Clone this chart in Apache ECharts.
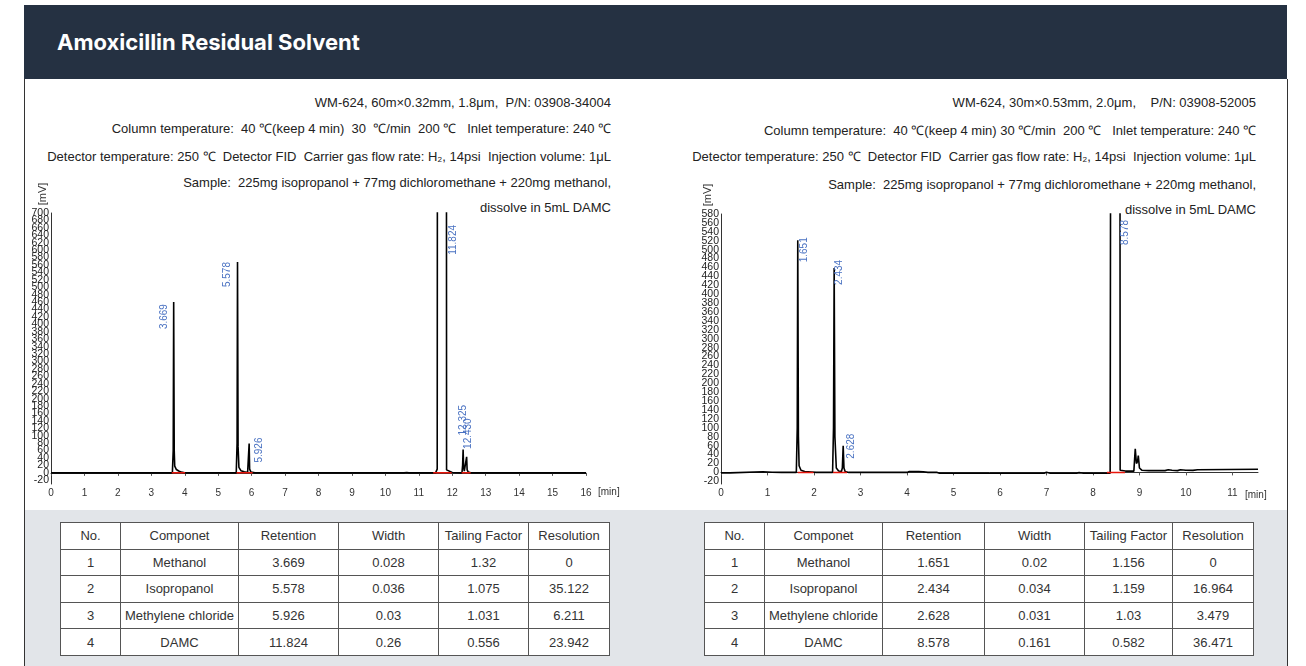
<!DOCTYPE html>
<html><head><meta charset="utf-8">
<script src="https://cdn.jsdelivr.net/npm/echarts@6/dist/echarts.min.js"></script>
<style>
body{margin:0;width:1306px;height:666px;position:relative;overflow:hidden;background:#fff;font-family:"Liberation Sans",Arial,sans-serif;}
#hdr{position:absolute;left:24px;top:5px;width:1263px;height:74px;background:#253142;}
#hdr span{position:absolute;left:33px;top:24px;line-height:26px;color:#fff;font-family:Inter,sans-serif;font-weight:700;font-size:22px;letter-spacing:0px;}
#panel{position:absolute;left:24px;top:79px;width:1262px;height:600px;border-left:1px solid #333;border-right:1px solid #333;}
#grey{position:absolute;left:25px;top:510px;width:1262px;height:156px;background:#e2e5e9;}
.info{position:absolute;white-space:pre;font-size:13px;line-height:16px;color:#222;text-align:right;}
table{position:absolute;top:522px;border-collapse:collapse;background:#fff;font-size:13px;color:#333;table-layout:fixed;}
td{border:1px solid #555;text-align:center;padding:0;white-space:nowrap;}
tr{height:26.6px;}
#chart{position:absolute;left:0;top:0;width:1306px;height:666px;}
</style></head>
<body>
<div id="hdr"><span>Amoxicillin Residual Solvent</span></div>
<div id="panel"></div>
<div id="grey"></div>
<div id="infoL"></div>
<div id="infoR"></div>
<table id="tblL"></table>
<table id="tblR"></table>
<div id="chart"></div>
<script>
// ---------------- data ----------------
const infoLeft = [
  "WM-624, 60m×0.32mm, 1.8μm,  P/N: 03908-34004",
  "Column temperature:  40 ℃(keep 4 min)  30  ℃/min  200 ℃   Inlet temperature: 240 ℃",
  "Detector temperature: 250 ℃  Detector FID  Carrier gas flow rate: H₂, 14psi  Injection volume: 1μL",
  "Sample:  225mg isopropanol + 77mg dichloromethane + 220mg methanol,",
  "dissolve in 5mL DAMC"
];
const infoRight = [
  "WM-624, 30m×0.53mm, 2.0μm,    P/N: 03908-52005",
  "Column temperature:  40 ℃(keep 4 min) 30 ℃/min  200 ℃   Inlet temperature: 240 ℃",
  "Detector temperature: 250 ℃  Detector FID  Carrier gas flow rate: H₂, 14psi  Injection volume: 1μL",
  "Sample:  225mg isopropanol + 77mg dichloromethane + 220mg methanol,",
  "dissolve in 5mL DAMC"
];

const tableHeader = ["No.", "Componet", "Retention", "Width", "Tailing Factor", "Resolution"];
const components = ["Methanol", "Isopropanol", "Methylene chloride", "DAMC"];
const retentionLeft = ["3.669", "5.578", "5.926", "11.824"];
const widthLeft = ["0.028", "0.036", "0.03", "0.26"];
const tailingLeft = ["1.32", "1.075", "1.031", "0.556"];
const resolutionLeft = ["0", "35.122", "6.211", "23.942"];
const retentionRight = ["1.651", "2.434", "2.628", "8.578"];
const widthRight = ["0.02", "0.034", "0.031", "0.161"];
const tailingRight = ["1.156", "1.159", "1.03", "0.582"];
const resolutionRight = ["0", "16.964", "3.479", "36.471"];

// chromatogram traces [time(min), signal(mV)]
const traceLeft = [
  [0,0],[1.5,0.5],[3.0,0],[3.63,0],[3.655,60],[3.669,460],[3.685,60],[3.70,18],[3.75,9],[3.82,5],[3.90,2],[4.0,0],
  [5.0,0],[5.54,0],[5.565,80],[5.578,568],[5.595,70],[5.62,15],[5.68,6],[5.78,3],[5.88,1],[5.91,0],[5.926,79],[5.94,10],[5.98,2],[6.1,0],
  [9.72,0],[9.74,2],[9.76,0],[10.56,0],[10.60,3],[10.64,1],[10.70,0],[11.50,0],[11.55,10],[11.56,1500],[11.824,1500],[11.83,8],[11.88,3],[12.0,1],
  [12.29,0],[12.31,20],[12.325,63],[12.34,15],[12.36,5],[12.41,8],[12.43,43],[12.445,8],[12.48,2],[12.55,0],[16,0]
];
const traceRight = [
  [0,-1],[0.19,-1],[0.2,1.5],[0.9,1.5],[1.0,1],[1.1,0.5],[1.3,0],[1.45,0.5],[1.62,0],[1.64,100],[1.651,521],[1.665,80],[1.68,15],[1.72,5],[1.8,2],[1.95,1],[2.05,0],
  [2.40,0],[2.42,100],[2.434,459],[2.45,80],[2.48,10],[2.53,3],[2.59,2],[2.61,10],[2.628,60],[2.645,10],[2.67,2],[2.75,0],
  [4.0,0],[4.05,2],[4.25,2],[4.35,1.5],[4.45,0],[4.65,0],[4.7,-2],[6.95,-2],[7.0,0.5],[7.08,-2],[7.65,-2],[7.7,-0.5],[7.8,-2],
  [8.37,-2],[8.39,1500],[8.578,1500],[8.585,5],[8.7,3],[8.88,3],[8.91,53],[8.935,20],[8.96,25],[8.975,38],[9.0,10],[9.05,5],[9.2,4],
  [9.55,4],[9.62,6],[9.7,5],[9.82,4],[9.88,6],[10.0,5],[10.15,4.5],[10.25,6],[11.55,7]
];
// integration baselines [start, end] (min)
const baselinesLeft = [[3.61,4.01],[5.55,6.03],[11.43,11.98],[12.28,12.55]];
const baselinesRight = [[1.65,1.99],[2.41,2.71],[8.30,8.69]];

// peak annotations
const peakRtLeft = [3.669, 5.578, 5.926, 11.824, 12.325, 12.430];
const peakTopLeft = [460, 568, 79, 700, 63, 43];
const peakLabelLeft = ["3.669", "5.578", "5.926", "11.824", "12.325", "12.430"];
const peakRtRight = [1.651, 2.434, 2.628, 8.578];
const peakTopRight = [521, 459, 60, 580];
const peakLabelRight = ["1.651", "2.434", "2.628", "8.578"];

// axis ticks (y labels split in two interleaved sets so none is dropped)
const xTicksLeft = [0,1,2,3,4,5,6,7,8,9,10,11,12,13,14,15,16];
const xTicksRight = [0,1,2,3,4,5,6,7,8,9,10,11];
const yTicksLeftA = [-20,20,60,100,140,180,220,260,300,340,380,420,460,500,540,580,620,660,700];
const yTicksLeftB = [0,40,80,120,160,200,240,280,320,360,400,440,480,520,560,600,640,680];
const yTicksRightA = [-20,20,60,100,140,180,220,260,300,340,380,420,460,500,540,580];
const yTicksRightB = [0,40,80,120,160,200,240,280,320,360,400,440,480,520,560];
const xUnit = "[min]";
const yUnit = "[mV]";

// ---------------- HTML parts ----------------
function buildInfo(id, lines, right, tops) {
  const el = document.getElementById(id);
  lines.forEach((t, i) => {
    const d = document.createElement('div');
    d.className = 'info';
    d.style.right = (1306 - right) + 'px';
    d.style.top = (tops[i] - 8) + 'px';
    d.textContent = t;
    el.appendChild(d);
  });
}
buildInfo('infoL', infoLeft, 611, [103, 129, 157, 183, 208]);
buildInfo('infoR', infoRight, 1256, [103, 131, 157, 185, 210]);

function buildTable(id, left, widths, ret, wid, tail, res) {
  const t = document.getElementById(id);
  t.style.left = left + 'px';
  let html = '<colgroup>' + widths.map(w => '<col style="width:' + w + 'px">').join('') + '</colgroup>';
  html += '<tr>' + tableHeader.map(h => '<td>' + h + '</td>').join('') + '</tr>';
  components.forEach((c, i) => {
    html += '<tr><td>' + (i + 1) + '</td><td>' + c + '</td><td>' + ret[i] + '</td><td>' + wid[i] + '</td><td>' + tail[i] + '</td><td>' + res[i] + '</td></tr>';
  });
  t.innerHTML = html;
  t.style.width = widths.reduce((a, b) => a + b, 0) + 'px';
}
buildTable('tblL', 60, [60, 118, 100, 100, 90, 81], retentionLeft, widthLeft, tailingLeft, resolutionLeft);
buildTable('tblR', 704, [60, 118, 102, 100, 88, 81], retentionRight, widthRight, tailingRight, resolutionRight);

// ---------------- chart ----------------
const chart = echarts.init(document.getElementById('chart'), null, {renderer: 'canvas'});
const FONT = 'Liberation Sans';
function xAxisCfg(idx, max, ticks) {
  return {
    type: 'value', gridIndex: idx, min: 0, max: max,
    axisLine: {lineStyle: {color: '#333', width: 1}},
    axisTick: {show: true, length: 3, inside: false, customValues: ticks, lineStyle: {color: '#555'}},
    axisLabel: {customValues: ticks, showMinLabel: true, showMaxLabel: true, hideOverlap: false, fontFamily: FONT, fontSize: 10, color: '#333', margin: 4},
    splitLine: {show: false}
  };
}
function yAxisCfg(idx, min, max, ticks, showLine) {
  return {
    type: 'value', gridIndex: idx, min: min, max: max, position: 'left',
    axisLine: {show: showLine, onZero: false, lineStyle: {color: '#333', width: 1}},
    axisTick: {show: false},
    axisLabel: {customValues: ticks, showMinLabel: true, showMaxLabel: true, hideOverlap: false, fontFamily: FONT, fontSize: 10.5, color: '#222', margin: 2},
    splitLine: {show: false}
  };
}
function baselineSeries(segs, xIdx, yIdx) {
  return segs.map(s => ({
    type: 'line', xAxisIndex: xIdx, yAxisIndex: yIdx, data: [[s[0], 0], [s[1], 0]],
    symbol: 'none', lineStyle: {color: '#e8160c', width: 1.5}, silent: true, z: 3, animation: false
  }));
}
const option = {
  backgroundColor: 'transparent',
  animation: false,
  grid: [
    {left: 51, top: 213, width: 535, height: 271},
    {left: 721, top: 214, width: 537, height: 270}
  ],
  xAxis: [xAxisCfg(0, 16, xTicksLeft), xAxisCfg(1, 11.55, xTicksRight)],
  yAxis: [
    yAxisCfg(0, -30, 700, yTicksLeftA, true), yAxisCfg(0, -30, 700, yTicksLeftB, false),
    yAxisCfg(1, -26, 580, yTicksRightA, true), yAxisCfg(1, -26, 580, yTicksRightB, false)
  ],
  series: [
    {type: 'line', xAxisIndex: 0, yAxisIndex: 0, data: traceLeft, symbol: 'none', clip: true, lineStyle: {color: '#000', width: 1.6}, z: 2},
    {type: 'line', xAxisIndex: 1, yAxisIndex: 2, data: traceRight, symbol: 'none', clip: true, lineStyle: {color: '#000', width: 1.6}, z: 2}
  ].concat(baselineSeries(baselinesLeft, 0, 0), baselineSeries(baselinesRight, 1, 2))
};
chart.setOption(option);

// label placement (style offsets in px): [dx, dy, anchor end]
const labelPosLeft = [[-9, 2, 'right'], [-10, 0, 'right'], [10, -6, 'right'], [7, 12, 'right'], [0, -14, 'left'], [2, -8, 'left']];
const labelPosRight = [[6, -3, 'right'], [5, -8, 'right'], [8, -12, 'right'], [5, 6, 'right']];
const graphics = [];
function addLabels(xIdx, yIdx, rts, tops, labels, pos) {
  rts.forEach((rt, i) => {
    const p = chart.convertToPixel({xAxisIndex: xIdx, yAxisIndex: yIdx}, [rt, tops[i]]);
    graphics.push({
      type: 'text', x: p[0] + pos[i][0], y: p[1] + pos[i][1], rotation: Math.PI / 2, silent: true, z: 10,
      style: {text: labels[i], fill: '#4a72c2', font: '10px "Liberation Sans"', align: pos[i][2], verticalAlign: 'middle', textAlign: pos[i][2], textVerticalAlign: 'middle'}
    });
  });
}
addLabels(0, 0, peakRtLeft, peakTopLeft, peakLabelLeft, labelPosLeft);
addLabels(1, 2, peakRtRight, peakTopRight, peakLabelRight, labelPosRight);

// axis unit names, placed relative to axis corners
function addUnits(xIdx, yIdx, xmax, ymin, ymax, xOff, yOff) {
  const end = chart.convertToPixel({xAxisIndex: xIdx, yAxisIndex: yIdx}, [xmax, ymin]);
  graphics.push({type: 'text', x: end[0] + xOff[0], y: end[1] + xOff[1], silent: true,
    style: {text: xUnit, fill: '#333', font: '10px "Liberation Sans"', align: 'left', verticalAlign: 'middle', textAlign: 'left', textVerticalAlign: 'middle'}});
  const top = chart.convertToPixel({xAxisIndex: xIdx, yAxisIndex: yIdx}, [0, ymax]);
  graphics.push({type: 'text', x: top[0] + yOff[0], y: top[1] + yOff[1], rotation: Math.PI / 2, silent: true,
    style: {text: yUnit, fill: '#333', font: '11px "Liberation Sans"', align: 'center', verticalAlign: 'middle', textAlign: 'center', textVerticalAlign: 'middle'}});
}
addUnits(0, 0, 16, -30, 700, [12, 8], [-8, -19]);
addUnits(1, 2, 11.55, -26, 580, [-13, 11], [-13, -19]);
chart.setOption({graphic: graphics});
</script>
</body></html>
